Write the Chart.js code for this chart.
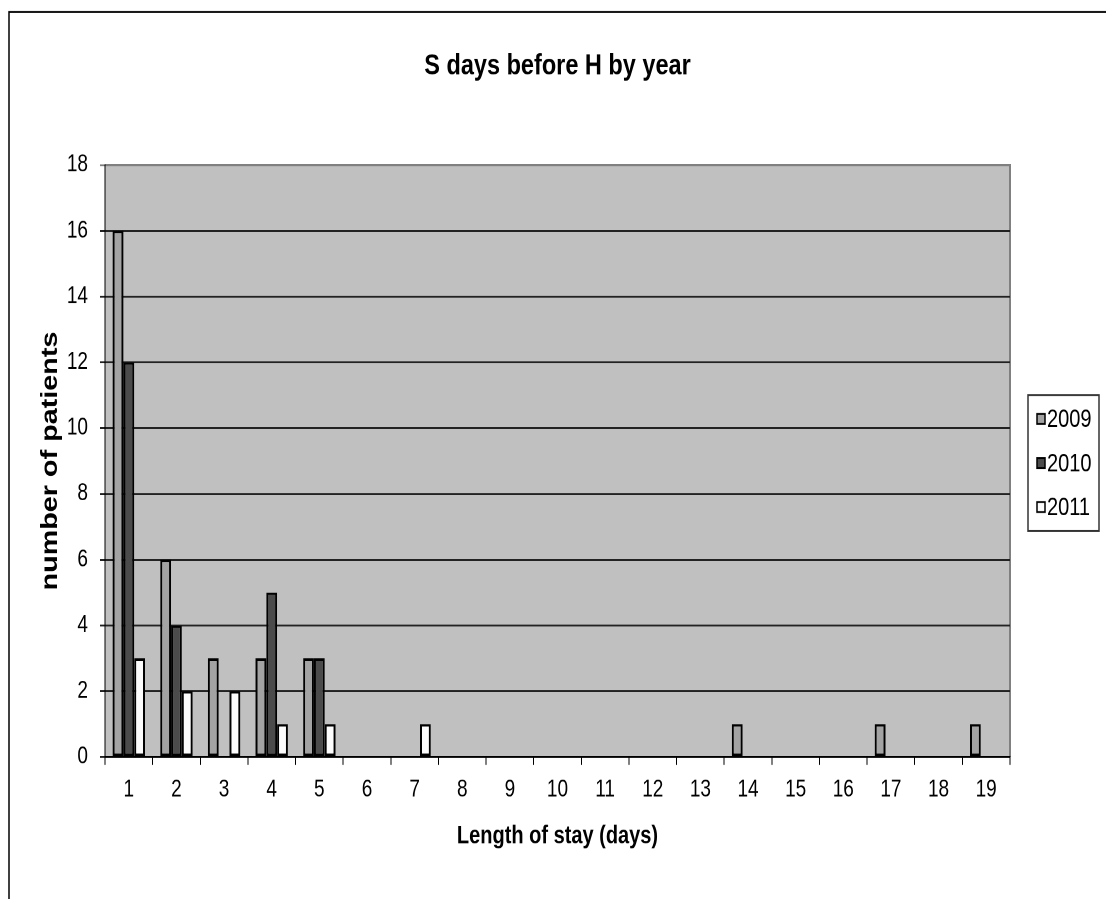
<!DOCTYPE html>
<html>
<head>
<meta charset="utf-8">
<title>S days before H by year</title>
<script src="https://cdn.jsdelivr.net/npm/chart.js@4.4.1/dist/chart.umd.min.js"></script>
<style>
  html, body { margin: 0; padding: 0; background: #fff; }
  #wrap { width: 1106px; height: 899px; }
  /* el original está estirado en vertical: se dibuja más bajo y se estira con CSS */
  #grafico { display: block; width: 1106px; height: 899px; }
</style>
</head>
<body>
<div id="wrap"><canvas id="grafico" width="1106" height="719" style="width:1106px;height:899px"></canvas></div>
<script>
// Datos
const dias = ['1', '2', '3', '4', '5', '6', '7', '8', '9', '10', '11', '12', '13', '14', '15', '16', '17', '18', '19'];
const anios = ['2009', '2010', '2011'];
const pacientes2009 = [16, 6, 3, 3, 3, 0, 0, 0, 0, 0, 0, 0, 0, 1, 0, 0, 1, 0, 1];
const pacientes2010 = [12, 4, 0, 5, 3, 0, 0, 0, 0, 0, 0, 0, 0, 0, 0, 0, 0, 0, 0];
const pacientes2011 = [3, 2, 2, 1, 1, 0, 1, 0, 0, 0, 0, 0, 0, 0, 0, 0, 0, 0, 0];
const ticksY = [0, 2, 4, 6, 8, 10, 12, 14, 16, 18];
const colores = ['#a3a3a3', '#4b4b4b', '#fcfcfc'];

const FUENTE = '"Liberation Sans", Arial, sans-serif';

// Fondo gris del área, marco exterior y bordes grises
const fondo = {
    id: 'fondo',
    beforeDraw(chart) {
        const { ctx, chartArea: a } = chart;
        ctx.save();
        ctx.strokeStyle = '#000';
        ctx.lineWidth = 1.5;
        ctx.beginPath();
        ctx.moveTo(9, 719);
        ctx.lineTo(9, 9.6);
        ctx.lineTo(1106, 9.6);
        ctx.stroke();
        ctx.fillStyle = '#c0c0c0';
        ctx.fillRect(a.left, a.top, a.right - a.left, a.bottom - a.top);
        ctx.strokeStyle = '#808080';
        ctx.lineWidth = 2;
        ctx.beginPath();
        ctx.moveTo(a.left, a.top);
        ctx.lineTo(a.right, a.top);
        ctx.lineTo(a.right, a.bottom);
        ctx.stroke();
        ctx.restore();
    }
};

// Leyenda con recuadro a la derecha
const leyenda = {
    id: 'leyenda',
    afterDraw(chart) {
        const { ctx, chartArea: a } = chart;
        const sets = chart.data.datasets;
        const paso = 35.2;
        const centro = (a.top + a.bottom) / 2 + 1.6;
        const alto = paso * sets.length + 3.2;
        const top = centro - alto / 2;
        ctx.save();
        ctx.fillStyle = '#fff';
        ctx.fillRect(1028, top, 71, alto);
        ctx.strokeStyle = '#333';
        ctx.lineWidth = 1.5;
        ctx.strokeRect(1028, top, 71, alto);
        ctx.font = '20px ' + FUENTE;
        ctx.textBaseline = 'middle';
        ctx.textAlign = 'left';
        sets.forEach((ds, i) => {
            const y = top + 19.2 + i * paso;
            ctx.fillStyle = ds.backgroundColor;
            ctx.fillRect(1037, y - 4, 8, 8);
            ctx.strokeStyle = '#000';
            ctx.lineWidth = 1.5;
            ctx.strokeRect(1037, y - 4, 8, 8);
            ctx.fillStyle = '#000';
            ctx.fillText(ds.label, 1047, y + 1);
        });
        ctx.restore();
    }
};

const series = [pacientes2009, pacientes2010, pacientes2011];

new Chart(document.getElementById('grafico').getContext('2d'), {
    type: 'bar',
    data: {
        labels: dias,
        datasets: series.map((valores, i) => ({
            label: anios[i],
            data: valores,
            backgroundColor: colores[i],
            borderColor: '#000',
            borderWidth: 2,
            borderSkipped: false,
            categoryPercentage: 0.68,
            barPercentage: 1
        }))
    },
    options: {
        responsive: false,
        animation: false,
        devicePixelRatio: 2,
        layout: { padding: { left: 0, right: 96, top: 0, bottom: 0 } },
        plugins: {
            legend: { display: false },
            tooltip: { enabled: false },
            title: {
                display: true,
                fullSize: false,
                text: 'S days before H by year',
                color: '#000',
                font: { family: FUENTE, size: 23.5, weight: 'bold' },
                padding: { top: 38.7, bottom: 65.1 }
            }
        },
        scales: {
            x: {
                afterFit: (s) => { s.height = 113.6; },
                border: { display: true, color: '#000', width: 1.5 },
                grid: { display: true, drawOnChartArea: false, drawTicks: true, tickLength: 6.4, color: '#000', lineWidth: 1, offset: true },
                ticks: { color: '#000', padding: 8.6, font: { family: FUENTE, size: 19 }, maxRotation: 0, autoSkip: false },
                title: {
                    display: true,
                    text: 'Length of stay (days)',
                    color: '#000',
                    font: { family: FUENTE, size: 20, weight: 'bold' },
                    padding: { top: 0, bottom: 38.2 }
                }
            },
            y: {
                min: 0,
                max: 18,
                afterFit: (s) => { s.width = 105; },
                afterBuildTicks: (s) => { s.ticks = ticksY.map(v => ({ value: v })); },
                border: { display: true, color: '#000', width: 1 },
                grid: {
                    color: (c) => (c.tick && c.tick.value === 18 ? '#808080' : '#222'),
                    lineWidth: 1.5,
                    tickLength: 5
                },
                ticks: { color: '#000', padding: 12, font: { family: FUENTE, size: 19 } },
                title: {
                    display: true,
                    text: 'number of patients',
                    color: '#000',
                    font: { family: FUENTE, size: 23, weight: 'bold' },
                    padding: { top: 37, bottom: 0 }
                }
            }
        }
    },
    plugins: [fondo, leyenda]
});
</script>
</body>
</html>
